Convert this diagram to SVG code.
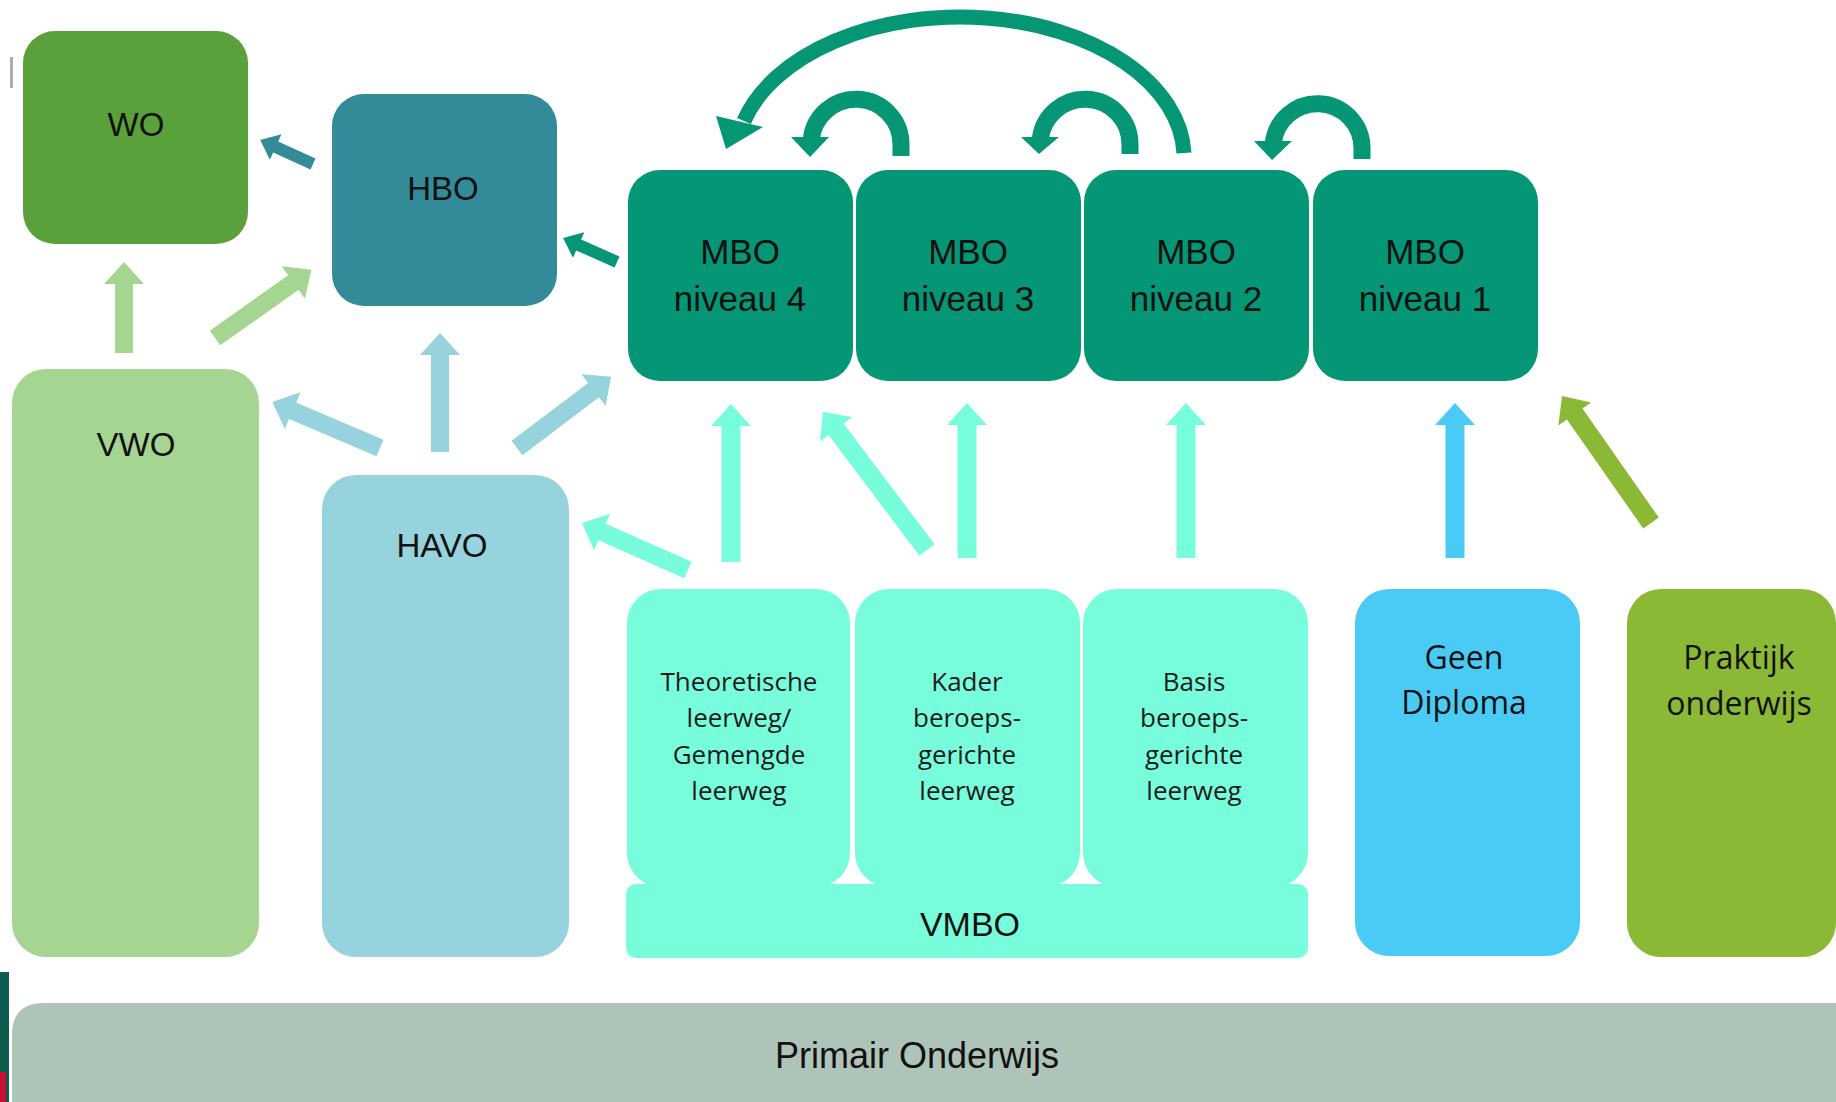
<svg xmlns="http://www.w3.org/2000/svg" width="1836" height="1102" viewBox="0 0 1836 1102">
<style>
  .lbl{font-family:"Liberation Sans",Arial,sans-serif;font-size:33px;fill:#111;text-anchor:middle}
  .mb{font-size:35px}
  .sub{font-family:"Open Sans","Noto Sans",sans-serif;font-size:26px;font-weight:500;fill:#1c1c1c;text-anchor:middle}
  .mid{font-family:"Open Sans","Noto Sans",sans-serif;font-size:32px;font-weight:500;fill:#111;text-anchor:middle}
  .wo{fill:#5BA13B}.hbo{fill:#338B9A}.mbo{fill:#059676}.vwo{fill:#A4D591}.havo{fill:#96D3DC}
  .vmbo{fill:#78FDDC}.geen{fill:#4ACBF6}.prak{fill:#8BB835}.po{fill:#AFC4B8}
  .curve{fill:none;stroke:#059676;stroke-linecap:butt}
</style>
<rect width="1836" height="1102" fill="#fff"/>
<rect x="10" y="57" width="3" height="31" fill="#8a8a8a" opacity="0.7"/>
<rect x="0" y="972" width="9" height="130" fill="#0d5b4e"/>
<rect x="0" y="1072" width="6" height="30" fill="#c8102e"/>

<g id="primair">
  <path class="po" d="M12 1035 Q12 1003 44 1003 L1836 1003 L1836 1102 L12 1102 Z"/>
  <text class="lbl" x="917" y="1068" style="font-size:36px">Primair Onderwijs</text>
</g>
<g id="wo">
  <rect class="wo" x="23" y="31" width="225" height="213" rx="32"/>
  <text class="lbl" x="136" y="136">WO</text>
</g>
<g id="hbo">
  <rect class="hbo" x="332" y="94" width="225" height="212" rx="32"/>
  <text class="lbl" x="443" y="200">HBO</text>
</g>
<g id="mbo4">
  <rect class="mbo" x="628" y="170" width="225" height="211" rx="32"/>
  <text class="lbl mb" x="740" y="264">MBO</text><text class="lbl mb" x="740" y="311">niveau 4</text>
</g>
<g id="mbo3">
  <rect class="mbo" x="856" y="170" width="225" height="211" rx="32"/>
  <text class="lbl mb" x="968" y="264">MBO</text><text class="lbl mb" x="968" y="311">niveau 3</text>
</g>
<g id="mbo2">
  <rect class="mbo" x="1084" y="170" width="225" height="211" rx="32"/>
  <text class="lbl mb" x="1196" y="264">MBO</text><text class="lbl mb" x="1196" y="311">niveau 2</text>
</g>
<g id="mbo1">
  <rect class="mbo" x="1313" y="170" width="225" height="211" rx="32"/>
  <text class="lbl mb" x="1425" y="264">MBO</text><text class="lbl mb" x="1425" y="311">niveau 1</text>
</g>
<g id="vwo">
  <rect class="vwo" x="12" y="369" width="247" height="588" rx="34"/>
  <text class="lbl" x="136" y="456">VWO</text>
</g>
<g id="havo">
  <rect class="havo" x="322" y="475" width="247" height="482" rx="34"/>
  <text class="lbl" x="442" y="557">HAVO</text>
</g>
<g id="vmbo">
  <rect class="vmbo" x="626" y="884" width="682" height="74" rx="10"/>
  <text class="lbl" x="970" y="936" style="font-size:34px">VMBO</text>
</g>
<g id="theoretisch">
  <rect class="vmbo" x="627" y="589" width="223" height="298" rx="34"/>
  <text class="sub" x="739" y="691">Theoretische</text>
  <text class="sub" x="739" y="727">leerweg/</text>
  <text class="sub" x="739" y="764">Gemengde</text>
  <text class="sub" x="739" y="800">leerweg</text>
</g>
<g id="kader">
  <rect class="vmbo" x="855" y="589" width="225" height="298" rx="34"/>
  <text class="sub" x="967" y="691">Kader</text>
  <text class="sub" x="967" y="727">beroeps-</text>
  <text class="sub" x="967" y="764">gerichte</text>
  <text class="sub" x="967" y="800">leerweg</text>
</g>
<g id="basis">
  <rect class="vmbo" x="1083" y="589" width="225" height="298" rx="34"/>
  <text class="sub" x="1194" y="691">Basis</text>
  <text class="sub" x="1194" y="727">beroeps-</text>
  <text class="sub" x="1194" y="764">gerichte</text>
  <text class="sub" x="1194" y="800">leerweg</text>
</g>
<g id="geen">
  <rect class="geen" x="1355" y="589" width="225" height="367" rx="34"/>
  <text class="mid" x="1464" y="669">Geen</text>
  <text class="mid" x="1464" y="714">Diploma</text>
</g>
<g id="praktijk">
  <rect class="prak" x="1627" y="589" width="209" height="368" rx="34"/>
  <text class="mid" x="1739" y="669">Praktijk</text>
  <text class="mid" x="1739" y="715">onderwijs</text>
</g>

<g id="connectors">
  <polygon class="hbo" transform="translate(313,164) rotate(204.4)" points="0,-6 41,-6 41,-14 58,0 41,14 41,6 0,6"/>
  <polygon class="mbo" transform="translate(617,262) rotate(204)" points="0,-6 42,-6 42,-14 59,0 42,14 42,6 0,6"/>
  <polygon class="vwo" transform="translate(124,353) rotate(-90)" points="0,-9 69,-9 69,-20 91,0 69,20 69,9 0,9"/>
  <polygon class="vwo" transform="translate(215,338) rotate(-35.3)" points="0,-9 96,-9 96,-20 118,0 96,20 96,9 0,9"/>
  <polygon class="havo" transform="translate(380,448) rotate(203.1)" points="0,-9 95,-9 95,-20 117,0 95,20 95,9 0,9"/>
  <polygon class="havo" transform="translate(440,452) rotate(-90)" points="0,-9 97,-9 97,-20 119,0 97,20 97,9 0,9"/>
  <polygon class="havo" transform="translate(517,448) rotate(-37.1)" points="0,-9 96,-9 96,-20 118,0 96,20 96,9 0,9"/>
  <polygon class="vmbo" transform="translate(688,570) rotate(203.9)" points="0,-9 94,-9 94,-20 116,0 94,20 94,9 0,9"/>
  <polygon class="vmbo" transform="translate(731,562) rotate(-90)" points="0,-9.5 136,-9.5 136,-20 158,0 136,20 136,9.5 0,9.5"/>
  <polygon class="vmbo" transform="translate(927,550) rotate(-127)" points="0,-9.5 151,-9.5 151,-20 173,0 151,20 151,9.5 0,9.5"/>
  <polygon class="vmbo" transform="translate(967,558) rotate(-90)" points="0,-9.5 133,-9.5 133,-20 155,0 133,20 133,9.5 0,9.5"/>
  <polygon class="vmbo" transform="translate(1186,558) rotate(-90)" points="0,-9.5 133,-9.5 133,-20 155,0 133,20 133,9.5 0,9.5"/>
  <polygon class="geen" transform="translate(1455,558) rotate(-90)" points="0,-9.5 133,-9.5 133,-20 155,0 133,20 133,9.5 0,9.5"/>
  <polygon class="prak" transform="translate(1651,523) rotate(-125)" points="0,-9.5 133,-9.5 133,-20 155,0 133,20 133,9.5 0,9.5"/>

  <path class="curve" stroke-width="15" d="M1184 153 A224 141 0 0 0 744 121"/>
  <polygon class="mbo" points="716,116 763,127 726,149"/>
  <path class="curve" stroke-width="17" d="M901 156 L901 144.5 A45 45 0 0 0 811.2 140"/>
  <polygon class="mbo" points="791,137 829,137 810,157"/>
  <path class="curve" stroke-width="17" d="M1130 154 L1130 144.5 A45 45 0 0 0 1040.2 140"/>
  <polygon class="mbo" points="1021,137 1059,137 1039,154"/>
  <path class="curve" stroke-width="17" d="M1362 159 L1362 148 A44.5 44.5 0 0 0 1273.2 144"/>
  <polygon class="mbo" points="1254,141 1292,141 1272,160"/>
</g>
</svg>
